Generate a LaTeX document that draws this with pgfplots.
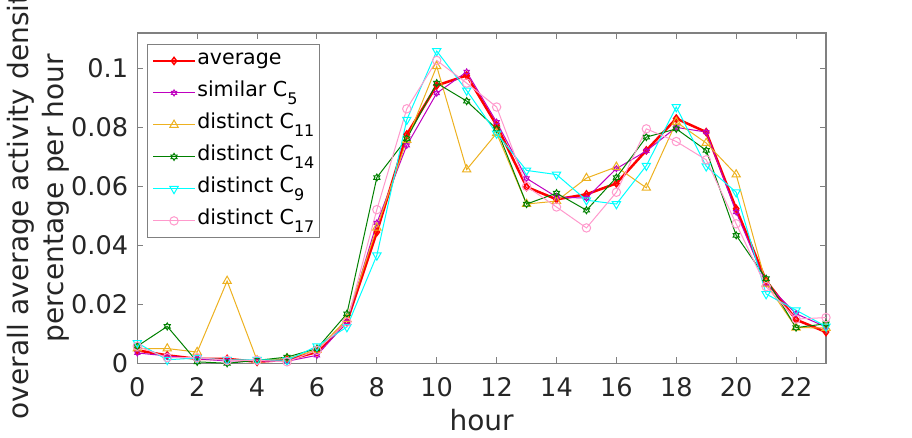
\documentclass[border=0pt]{standalone}
\usepackage{pgfplots}
\pgfplotsset{compat=1.18}
\usepackage{fontspec}
\setmainfont{DejaVu Sans}
\definecolor{axgray}{rgb}{0.5,0.5,0.5}
\definecolor{txtgray}{rgb}{0.15,0.15,0.15}
\definecolor{cmag}{rgb}{0.75,0,0.75}
\definecolor{corange}{rgb}{0.929,0.694,0.125}
\definecolor{cgreen}{rgb}{0,0.5,0}
\definecolor{ccyan}{rgb}{0,1,1}
\definecolor{cpink}{rgb}{1,0.6,0.8}
\pgfdeclareplotmark{hexagram}{%
  \pgfpathmoveto{\pgfpointpolar{90}{\pgfplotmarksize}}%
  \pgfpathlineto{\pgfpointpolar{120}{0.577\pgfplotmarksize}}%
  \pgfpathlineto{\pgfpointpolar{150}{\pgfplotmarksize}}%
  \pgfpathlineto{\pgfpointpolar{180}{0.577\pgfplotmarksize}}%
  \pgfpathlineto{\pgfpointpolar{210}{\pgfplotmarksize}}%
  \pgfpathlineto{\pgfpointpolar{240}{0.577\pgfplotmarksize}}%
  \pgfpathlineto{\pgfpointpolar{270}{\pgfplotmarksize}}%
  \pgfpathlineto{\pgfpointpolar{300}{0.577\pgfplotmarksize}}%
  \pgfpathlineto{\pgfpointpolar{330}{\pgfplotmarksize}}%
  \pgfpathlineto{\pgfpointpolar{0}{0.577\pgfplotmarksize}}%
  \pgfpathlineto{\pgfpointpolar{30}{\pgfplotmarksize}}%
  \pgfpathlineto{\pgfpointpolar{60}{0.577\pgfplotmarksize}}%
  \pgfpathclose
  \pgfusepathqstroke}
\newcommand{\sub}[1]{\raisebox{-8pt}{\fontsize{16}{16}\selectfont #1}}
\begin{document}
\begin{tikzpicture}
\useasboundingbox (-137.3pt,-74.7pt) rectangle (774.7pt,363.3pt);
\begin{axis}[
  at={(0,0)}, anchor=south west,
  scale only axis, width=688.7pt, height=330.3pt,
  xmin=0, xmax=23, ymin=0, ymax=0.112,
  xtick={0,2,...,22},
  ytick={0,0.02,0.04,0.06,0.08,0.1},
  yticklabels={0,0.02,0.04,0.06,0.08,0.1},
  /pgf/number format/assume math mode=true,
  tick align=inside, tick pos=both,
  major tick length=6pt,
  axis line style={axgray, line width=1.2pt},
  every tick/.style={axgray, line width=1pt},
  tick label style={font=\fontsize{25.6}{30}\selectfont, text=txtgray},
  xticklabel style={anchor=base, inner sep=0pt, yshift=-33pt},
  yticklabel style={anchor=east, inner sep=0pt, xshift=-9pt},
  xlabel={hour},
  xlabel style={at={(axis description cs:0.5,-0.202)}, anchor=base, inner sep=0pt, font=\fontsize{28}{34}\selectfont, text=txtgray},
  ylabel={overall average activity density\\percentage per hour},
  ylabel style={at={(axis description cs:-0.0977,0.5)}, anchor=south, inner sep=0pt, align=center, font=\fontsize{28}{35}\selectfont, text=txtgray},
  legend image code/.code={\draw[mark repeat=2,mark phase=2,#1] plot coordinates {(0pt,0pt) (21pt,0pt) (42pt,0pt)};},
  legend style={at={(0.0145,0.967)}, anchor=north west, draw=axgray, line width=1pt,
    font=\fontsize{20.6}{24}\selectfont, text=black, row sep=7pt, inner sep=4pt,
    nodes={inner sep=1pt, text height=15pt, text depth=8pt}},
  legend cell align=left,
]
\addplot[red, line width=2.5pt, mark=diamond, mark size=3.5pt, mark options={solid, line width=1.5pt}] coordinates {
(0,0.0044) (1,0.0027) (2,0.0015) (3,0.0015) (4,0.0005) (5,0.0012) (6,0.0038) (7,0.014) (8,0.0445) (9,0.0776) (10,0.0942) (11,0.0976) (12,0.0807) (13,0.0598) (14,0.0556) (15,0.0573) (16,0.061) (17,0.0722) (18,0.083) (19,0.0784) (20,0.0524) (21,0.028) (22,0.0148) (23,0.0106)};
\addlegendentry{average}
\addplot[cmag, line width=1pt, mark=hexagram, mark size=3pt, mark options={solid}] coordinates {
(0,0.0035) (1,0.0025) (2,0.0015) (3,0.0008) (4,0.0008) (5,0.0007) (6,0.0027) (7,0.014) (8,0.0476) (9,0.0739) (10,0.0916) (11,0.0988) (12,0.0818) (13,0.0627) (14,0.0564) (15,0.056) (16,0.066) (17,0.072) (18,0.080) (19,0.0784) (20,0.0513) (21,0.027) (22,0.0168) (23,0.0123)};
\addlegendentry{similar C\sub{5}}
\addplot[corange, line width=1pt, mark=triangle, mark size=4.8pt, mark options={solid}] coordinates {
(0,0.005) (1,0.005) (2,0.0038) (3,0.0279) (4,0.001) (5,0.0016) (6,0.0045) (7,0.015) (8,0.046) (9,0.0757) (10,0.1007) (11,0.0657) (12,0.078) (13,0.054) (14,0.055) (15,0.0628) (16,0.0666) (17,0.0595) (18,0.0818) (19,0.0747) (20,0.064) (21,0.027) (22,0.0121) (23,0.012)};
\addlegendentry{distinct C\sub{11}}
\addplot[cgreen, line width=1pt, mark=hexagram, mark size=3.5pt, mark options={solid}] coordinates {
(0,0.0058) (1,0.0125) (2,0.0005) (3,0.0) (4,0.001) (5,0.0021) (6,0.005) (7,0.0168) (8,0.063) (9,0.0762) (10,0.095) (11,0.0889) (12,0.0795) (13,0.054) (14,0.0577) (15,0.0519) (16,0.063) (17,0.0767) (18,0.0795) (19,0.0722) (20,0.0434) (21,0.0287) (22,0.0121) (23,0.0134)};
\addlegendentry{distinct C\sub{14}}
\addplot[ccyan, line width=1pt, mark=triangle, mark size=4.8pt, mark options={solid, rotate=180}] coordinates {
(0,0.0069) (1,0.0012) (2,0.0018) (3,0.0012) (4,0.0012) (5,0.0010) (6,0.0058) (7,0.0123) (8,0.0366) (9,0.0826) (10,0.1059) (11,0.0925) (12,0.0779) (13,0.0654) (14,0.064) (15,0.0553) (16,0.054) (17,0.067) (18,0.0869) (19,0.0668) (20,0.058) (21,0.0235) (22,0.018) (23,0.0125)};
\addlegendentry{distinct C\sub{9}}
\addplot[cpink, line width=1pt, mark=o, mark size=4.2pt, mark options={solid}] coordinates {
(0,0.0058) (1,0.0019) (2,0.0019) (3,0.001) (4,0.001) (5,0.0005) (6,0.0044) (7,0.014) (8,0.0521) (9,0.0863) (10,0.1027) (11,0.095) (12,0.0869) (13,0.060) (14,0.053) (15,0.0459) (16,0.058) (17,0.0795) (18,0.0752) (19,0.069) (20,0.0473) (21,0.026) (22,0.015) (23,0.0155)};
\addlegendentry{distinct C\sub{17}}
\end{axis}
\end{tikzpicture}
\end{document}
